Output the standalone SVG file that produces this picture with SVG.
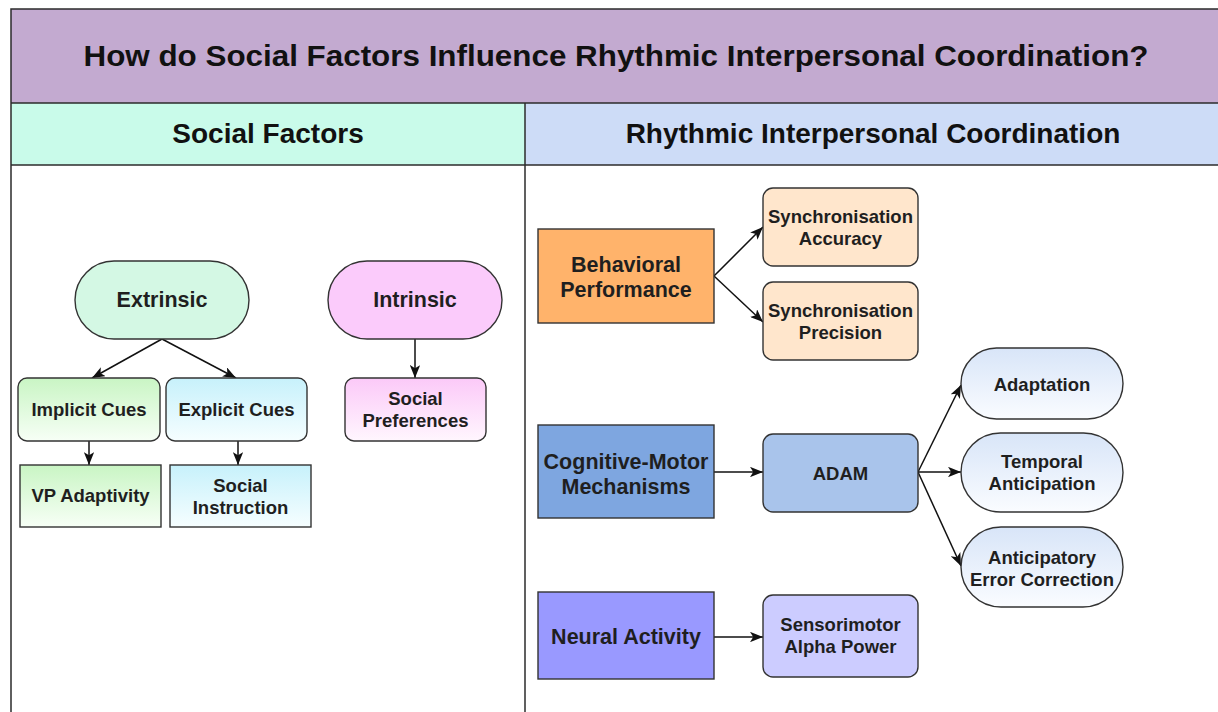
<svg xmlns="http://www.w3.org/2000/svg" width="1218" height="712" viewBox="0 0 1218 712">
  <defs>
    <style>
      .frame { fill: none; stroke: #2b2b2b; stroke-width: 1.5; }
      .node { stroke: #333; stroke-width: 1.4; }
      .t { font-family: "Liberation Sans", Arial, sans-serif; font-weight: bold; fill: #1f1f1f; text-anchor: middle; }
      .title { font-size: 29px; fill: #111; }
      .hdr { font-size: 28px; fill: #111; }
      .big { font-size: 21.5px; }
      .sm { font-size: 18.5px; }
      .edge { stroke: #111; stroke-width: 1.5; fill: none; marker-end: url(#ah); }
    </style>
    <marker id="ah" viewBox="0 0 10 8" refX="10" refY="4" markerWidth="13" markerHeight="10.4" orient="auto" markerUnits="userSpaceOnUse">
      <path d="M0,0 L10,4 L0,8 L2.5,4 Z" fill="#111"/>
    </marker>
    <linearGradient id="gGreen" x1="0" y1="0" x2="0" y2="1">
      <stop offset="0" stop-color="#c9f5c4"/>
      <stop offset="1" stop-color="#f7fff6"/>
    </linearGradient>
    <linearGradient id="gCyan" x1="0" y1="0" x2="0" y2="1">
      <stop offset="0" stop-color="#c7f1fb"/>
      <stop offset="1" stop-color="#f6feff"/>
    </linearGradient>
    <linearGradient id="gPink" x1="0" y1="0" x2="0" y2="1">
      <stop offset="0" stop-color="#fbc9f8"/>
      <stop offset="1" stop-color="#fff6fe"/>
    </linearGradient>
    <linearGradient id="gBlue" x1="0" y1="0" x2="0" y2="1">
      <stop offset="0" stop-color="#d8e5f8"/>
      <stop offset="1" stop-color="#fafcff"/>
    </linearGradient>
  </defs>

  <rect width="1218" height="712" fill="#ffffff"/>

  <!-- layout frame: title band, column headers, two columns -->
  <g id="frame">
    <rect x="11" y="9" width="1212" height="94" fill="#c3aad0"/>
    <rect x="11" y="103" width="514" height="62" fill="#c9fbea"/>
    <rect x="525" y="103" width="698" height="62" fill="#cddcf7"/>
    <rect class="frame" x="11" y="9" width="1212" height="720"/>
    <line class="frame" x1="11" y1="103" x2="1223" y2="103"/>
    <line class="frame" x1="11" y1="165" x2="1223" y2="165"/>
    <line class="frame" x1="525" y1="103" x2="525" y2="730"/>
    <text class="t title" x="616" y="66" textLength="1065" lengthAdjust="spacingAndGlyphs">How do Social Factors Influence Rhythmic Interpersonal Coordination?</text>
    <text class="t hdr" x="268" y="143">Social Factors</text>
    <text class="t hdr" x="873" y="143">Rhythmic Interpersonal Coordination</text>
  </g>

  <!-- connectors -->
  <g id="connectors">
    <line class="edge" x1="162" y1="339" x2="92" y2="378"/>
    <line class="edge" x1="162" y1="339" x2="236" y2="378"/>
    <line class="edge" x1="89" y1="441" x2="89" y2="465"/>
    <line class="edge" x1="238" y1="441" x2="238" y2="465"/>
    <line class="edge" x1="415" y1="339" x2="415" y2="378"/>
    <line class="edge" x1="714" y1="276" x2="763" y2="227"/>
    <line class="edge" x1="714" y1="276" x2="763" y2="322"/>
    <line class="edge" x1="714" y1="472" x2="763" y2="472"/>
    <line class="edge" x1="918" y1="472" x2="961" y2="385"/>
    <line class="edge" x1="918" y1="472" x2="961" y2="472"/>
    <line class="edge" x1="918" y1="472" x2="961" y2="566"/>
    <line class="edge" x1="714" y1="637" x2="763" y2="637"/>
  </g>

  <!-- social factors column -->
  <g id="extrinsic">
    <rect class="node" x="75" y="261" width="174" height="78" rx="39" fill="#d4f8e4"/>
    <text class="t big" x="162" y="307">Extrinsic</text>
  </g>
  <g id="intrinsic">
    <rect class="node" x="328" y="261" width="174" height="78" rx="39" fill="#fbcbfb"/>
    <text class="t big" x="415" y="307">Intrinsic</text>
  </g>
  <g id="implicit-cues">
    <rect class="node" x="18" y="378" width="142" height="63" rx="9" fill="url(#gGreen)"/>
    <text class="t sm" x="89" y="416">Implicit Cues</text>
  </g>
  <g id="explicit-cues">
    <rect class="node" x="166" y="378" width="141" height="63" rx="9" fill="url(#gCyan)"/>
    <text class="t sm" x="236.5" y="416">Explicit Cues</text>
  </g>
  <g id="vp-adaptivity">
    <rect class="node" x="20" y="465" width="141" height="62" fill="url(#gGreen)"/>
    <text class="t sm" x="90.5" y="502">VP Adaptivity</text>
  </g>
  <g id="social-instruction">
    <rect class="node" x="170" y="465" width="141" height="62" fill="url(#gCyan)"/>
    <text class="t sm" x="240.5" y="492">Social</text>
    <text class="t sm" x="240.5" y="514">Instruction</text>
  </g>
  <g id="social-preferences">
    <rect class="node" x="345" y="378" width="141" height="63" rx="9" fill="url(#gPink)"/>
    <text class="t sm" x="415.5" y="405">Social</text>
    <text class="t sm" x="415.5" y="427">Preferences</text>
  </g>

  <!-- coordination column -->
  <g id="behavioral-performance">
    <rect class="node" x="538" y="229" width="176" height="94" fill="#ffb36b"/>
    <text class="t big" x="626" y="272">Behavioral</text>
    <text class="t big" x="626" y="297">Performance</text>
  </g>
  <g id="sync-accuracy">
    <rect class="node" x="763" y="188" width="155" height="78" rx="10" fill="#ffe6cc"/>
    <text class="t sm" x="840.5" y="223">Synchronisation</text>
    <text class="t sm" x="840.5" y="245">Accuracy</text>
  </g>
  <g id="sync-precision">
    <rect class="node" x="763" y="282" width="155" height="78" rx="10" fill="#ffe6cc"/>
    <text class="t sm" x="840.5" y="317">Synchronisation</text>
    <text class="t sm" x="840.5" y="339">Precision</text>
  </g>
  <g id="cognitive-motor">
    <rect class="node" x="538" y="425" width="176" height="93" fill="#7ea6e0"/>
    <text class="t big" x="626" y="469">Cognitive-Motor</text>
    <text class="t big" x="626" y="494">Mechanisms</text>
  </g>
  <g id="adam">
    <rect class="node" x="763" y="434" width="155" height="78" rx="10" fill="#a9c4eb"/>
    <text class="t sm" x="840.5" y="480">ADAM</text>
  </g>
  <g id="adaptation">
    <rect class="node" x="961" y="348" width="162" height="71" rx="35.5" fill="url(#gBlue)"/>
    <text class="t sm" x="1042" y="391">Adaptation</text>
  </g>
  <g id="temporal-anticipation">
    <rect class="node" x="961" y="433" width="162" height="79" rx="39.5" fill="url(#gBlue)"/>
    <text class="t sm" x="1042" y="468">Temporal</text>
    <text class="t sm" x="1042" y="490">Anticipation</text>
  </g>
  <g id="anticipatory-error-correction">
    <rect class="node" x="961" y="527" width="162" height="80" rx="40" fill="url(#gBlue)"/>
    <text class="t sm" x="1042" y="564">Anticipatory</text>
    <text class="t sm" x="1042" y="586">Error Correction</text>
  </g>
  <g id="neural-activity">
    <rect class="node" x="538" y="592" width="176" height="87" fill="#9999ff"/>
    <text class="t big" x="626" y="644">Neural Activity</text>
  </g>
  <g id="sensorimotor-alpha">
    <rect class="node" x="763" y="595" width="155" height="82" rx="10" fill="#ccccff"/>
    <text class="t sm" x="840.5" y="631">Sensorimotor</text>
    <text class="t sm" x="840.5" y="653">Alpha Power</text>
  </g>
</svg>
